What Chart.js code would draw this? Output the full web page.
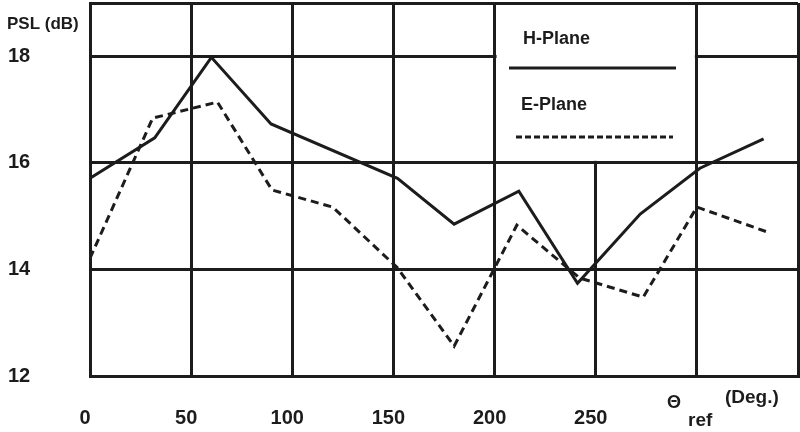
<!DOCTYPE html>
<html>
<head>
<meta charset="utf-8">
<script src="https://cdn.jsdelivr.net/npm/chart.js@4/dist/chart.umd.min.js"></script>
<style>
  html, body { margin: 0; padding: 0; background: #ffffff; }
  #wrap { width: 800px; height: 432px; position: relative; }
</style>
</head>
<body>
<div id="wrap"><canvas id="c" width="800" height="432"></canvas></div>
<script>
// ---- data ----
const hPlaneDeg = [0, 32, 60, 89.5, 152, 180, 212, 241, 272, 301.5, 333];
const hPlanePSL = [15.71, 16.47, 17.98, 16.73, 15.71, 14.85, 15.47, 13.74, 15.04, 15.9, 16.45];
const ePlaneDeg = [0, 31, 63, 90, 120, 152, 180, 211, 242, 273.5, 300, 335];
const ePlanePSL = [14.21, 16.84, 17.14, 15.49, 15.17, 14.03, 12.56, 14.83, 13.84, 13.48, 15.17, 14.7];
const xTickLabels = ['0', '50', '100', '150', '200', '250'];
const yTickLabels = ['12', '14', '16', '18'];
const seriesNames = ['H-Plane', 'E-Plane'];
const yAxisLabel = 'PSL (dB)';

const INK = '#1c1c1c';
const FONT = "'Liberation Sans', Arial, sans-serif";

const toPts = (xs, ys) => xs.map((x, i) => ({ x: x, y: ys[i] }));

const decorPlugin = {
  id: 'decor',
  beforeDatasetsDraw(chart) {
    const { ctx, scales } = chart;
    const x = scales.x, y = scales.y;
    // legend box: blank the cells from 200..300 deg, 16..top
    const l = x.getPixelForValue(200) + 2;
    const r = x.getPixelForValue(300) - 2;
    const t = chart.chartArea.top + 2;
    const b = y.getPixelForValue(16) - 2;
    ctx.save();
    ctx.fillStyle = '#ffffff';
    ctx.fillRect(l, t, r - l, b - t);
    ctx.fillStyle = INK;
    ctx.font = 'bold 18px ' + FONT;
    ctx.textBaseline = 'alphabetic';
    ctx.fillText(seriesNames[0], 523, 44);
    ctx.fillText(seriesNames[1], 521, 110);
    ctx.strokeStyle = INK;
    ctx.lineWidth = 3;
    ctx.beginPath(); ctx.moveTo(509, 68); ctx.lineTo(676, 68); ctx.stroke();
    ctx.setLineDash([6, 3]);
    ctx.beginPath(); ctx.moveTo(516, 137); ctx.lineTo(673, 137); ctx.stroke();
    ctx.restore();
  },
  afterDraw(chart) {
    const { ctx } = chart;
    ctx.save();
    ctx.fillStyle = INK;
    ctx.textBaseline = 'alphabetic';
    ctx.font = 'bold 17px ' + FONT;
    ctx.fillText(yAxisLabel, 7, 29);
    ctx.font = 'bold 18px ' + FONT;
    ctx.fillText('\u0398', 667, 408);
    ctx.font = 'bold 19px ' + FONT;
    ctx.fillText('ref', 688, 426);
    ctx.fillText('(Deg.)', 725, 403);
    ctx.restore();
  }
};

new Chart(document.getElementById('c'), {
  type: 'line',
  data: {
    datasets: [
      {
        label: seriesNames[0],
        data: toPts(hPlaneDeg, hPlanePSL),
        borderColor: INK,
        borderWidth: 3,
        pointRadius: 0,
        tension: 0,
        borderJoinStyle: 'miter',
        fill: false
      },
      {
        label: seriesNames[1],
        data: toPts(ePlaneDeg, ePlanePSL),
        borderColor: INK,
        borderWidth: 3,
        borderDash: [8, 5],
        pointRadius: 0,
        tension: 0,
        borderJoinStyle: 'miter',
        fill: false
      }
    ]
  },
  options: {
    responsive: false,
    animation: false,
    layout: { padding: { top: 3, right: 2, left: 8, bottom: 0 } },
    plugins: { legend: { display: false }, tooltip: { enabled: false } },
    scales: {
      x: {
        type: 'linear',
        min: 0, max: 350,
        afterFit(s) { s.height = 56; s.paddingLeft = 0; s.paddingRight = 0; },
        border: { display: true, color: INK, width: 3 },
        grid: { color: INK, lineWidth: 3, drawTicks: false },
        ticks: {
          stepSize: 50,
          padding: 30,
          labelOffset: -5,
          color: INK,
          font: { family: FONT, size: 20, weight: 'bold' },
          maxRotation: 0,
          autoSkip: false,
          callback: (v) => xTickLabels.includes(String(v)) ? String(v) : ''
        }
      },
      y: {
        min: 12, max: 19,
        afterFit(s) { s.width = 82; s.paddingTop = 0; s.paddingBottom = 0; },
        border: { display: true, color: INK, width: 3 },
        grid: {
          drawTicks: false,
          lineWidth: 3,
          color: (c) => (c.tick && (c.tick.value % 2 === 0 || c.tick.value === 19)) ? INK : 'rgba(0,0,0,0)'
        },
        ticks: {
          stepSize: 1,
          crossAlign: 'far',
          color: INK,
          font: { family: FONT, size: 20, weight: 'bold' },
          autoSkip: false,
          callback: (v) => yTickLabels.includes(String(v)) ? String(v) : ''
        }
      }
    }
  },
  plugins: [decorPlugin]
});
</script>
</body>
</html>
